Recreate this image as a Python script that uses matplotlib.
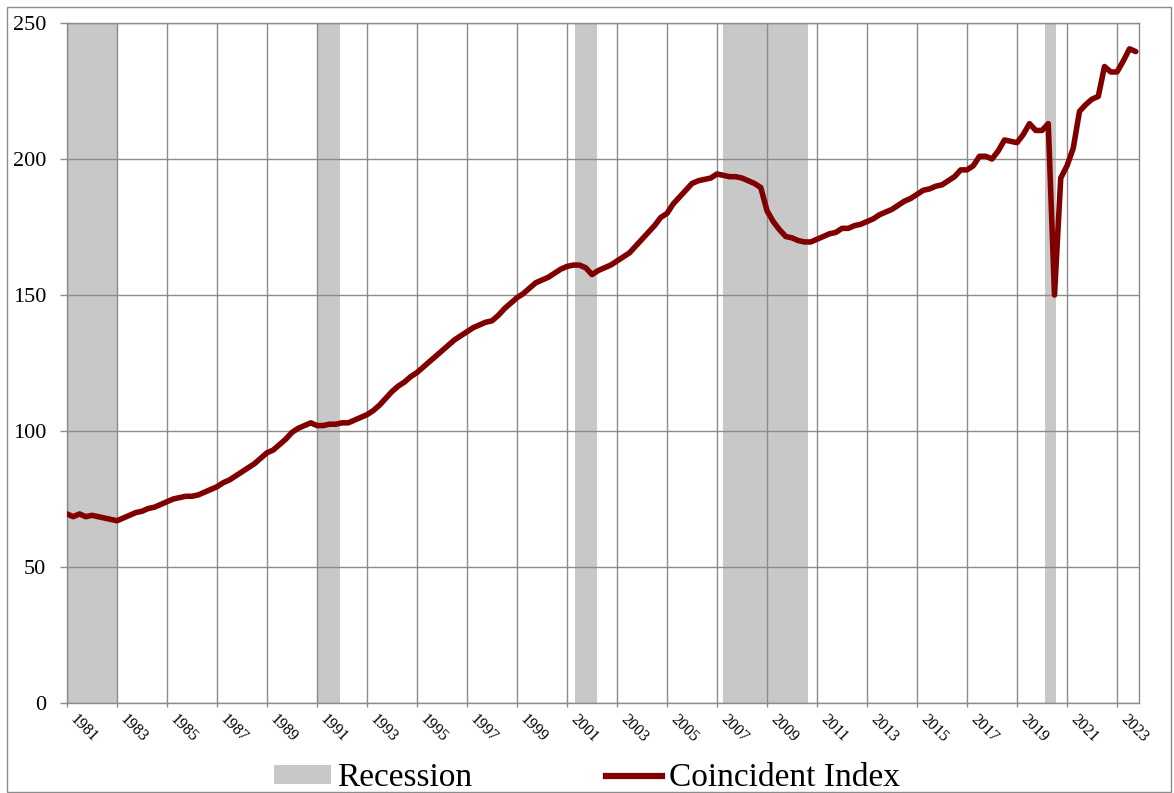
import numpy as np
import matplotlib
matplotlib.use("Agg")
import matplotlib.pyplot as plt
from matplotlib.patches import Patch, Rectangle
from matplotlib.lines import Line2D

# quarterly readings of the coincident index, 1981Q1 .. 2023Q4
quarters = np.arange(1981, 2024, 0.25)
coincident = [
    69.5, 68.5, 69.5, 68.5,   # 1981
    69, 68.5, 68, 67.5,       # 1982
    67, 68, 69, 70,           # 1983
    70.5, 71.5, 72, 73,       # 1984
    74, 75, 75.5, 76,         # 1985
    76, 76.5, 77.5, 78.5,     # 1986
    79.5, 81, 82, 83.5,       # 1987
    85, 86.5, 88, 90,         # 1988
    92, 93, 95, 97,           # 1989
    99.5, 101, 102, 103,      # 1990
    102, 102, 102.5, 102.5,   # 1991
    103, 103, 104, 105,       # 1992
    106, 107.5, 109.5, 112,   # 1993
    114.5, 116.5, 118, 120,   # 1994
    121.5, 123.5, 125.5, 127.5,  # 1995
    129.5, 131.5, 133.5, 135,    # 1996
    136.5, 138, 139, 140,        # 1997
    140.5, 142.5, 145, 147,      # 1998
    149, 150.5, 152.5, 154.5,    # 1999
    155.5, 156.5, 158, 159.5,    # 2000
    160.5, 161, 161, 160,        # 2001
    157.5, 159, 160, 161,        # 2002
    162.5, 164, 165.5, 168,      # 2003
    170.5, 173, 175.5, 178.5,    # 2004
    180, 183.5, 186, 188.5,      # 2005
    191, 192, 192.5, 193,        # 2006
    194.5, 194, 193.5, 193.5,    # 2007
    193, 192, 191, 189.5,        # 2008
    181, 177, 174, 171.5,        # 2009
    171, 170, 169.5, 169.5,      # 2010
    170.5, 171.5, 172.5, 173,    # 2011
    174.5, 174.5, 175.5, 176,    # 2012
    177, 178, 179.5, 180.5,      # 2013
    181.5, 183, 184.5, 185.5,    # 2014
    187, 188.5, 189, 190,        # 2015
    190.5, 192, 193.5, 196,      # 2016
    196, 197.5, 201, 201,        # 2017
    200, 203, 207, 206.5,        # 2018
    206, 209, 213, 210.5,        # 2019
    210.5, 213, 150, 193,        # 2020
    197.5, 204, 217.5, 220,      # 2021
    222, 223, 234, 232,          # 2022
    232, 236, 240.5, 239.5,      # 2023
]

# recession shading (start, end) in decimal years as drawn
rec_start = [1981.0, 1991.0, 2001.32, 2007.24, 2020.12]
rec_end = [1983.0, 1991.92, 2002.2, 2010.64, 2020.56]

tick_years = list(range(1981, 2024, 2))

plt.rcParams['font.family'] = ['Liberation Serif', 'DejaVu Serif']

fig = plt.figure(figsize=(11.74, 7.93), dpi=100)
ax = fig.add_axes([67/1174, 90/793, (1139-67)/1174, (703-23)/793])

grey = '#8c8c8c'
red = '#800000'
shade = '#c8c8c8'

for s, e in zip(rec_start, rec_end):
    ax.axvspan(s, e, color=shade, lw=0, zorder=1)

ax.plot(quarters, coincident, color=red, lw=4.0, zorder=3,
        solid_joinstyle='round', solid_capstyle='round')

ax.set_xlim(1981, 2023.88)
ax.set_ylim(0, 250)
ax.set_yticks(range(0, 251, 50))
ax.set_xticks(tick_years)
ax.set_xticklabels([str(y) for y in tick_years], rotation=-45,
                   ha='left', va='top', fontsize=11.5)
ax.tick_params(axis='y', labelsize=16, length=5, color=grey, width=1, pad=10)
ax.tick_params(axis='x', length=3, color=grey, width=1, pad=3)
ax.grid(True, color=grey, lw=1, zorder=2)
for sp in ax.spines.values():
    sp.set_color(grey)
    sp.set_linewidth(1)

handles = [Patch(facecolor=shade, edgecolor='none', label='Recession'),
           Line2D([0], [0], color=red, lw=4.5, label='Coincident Index')]
fig.legend(handles=handles, loc='center', bbox_to_anchor=(0.500, 0.019),
           ncol=2, frameon=False, fontsize=24, handlelength=1.7,
           handleheight=0.5, handletextpad=0.2, columnspacing=4.0)

# outer border
fig.patches.append(Rectangle((7/1174, 1/793), 1164/1174, 785/793,
                             transform=fig.transFigure, fill=False,
                             edgecolor=grey, lw=1))

fig.savefig('out.png', dpi=100)
